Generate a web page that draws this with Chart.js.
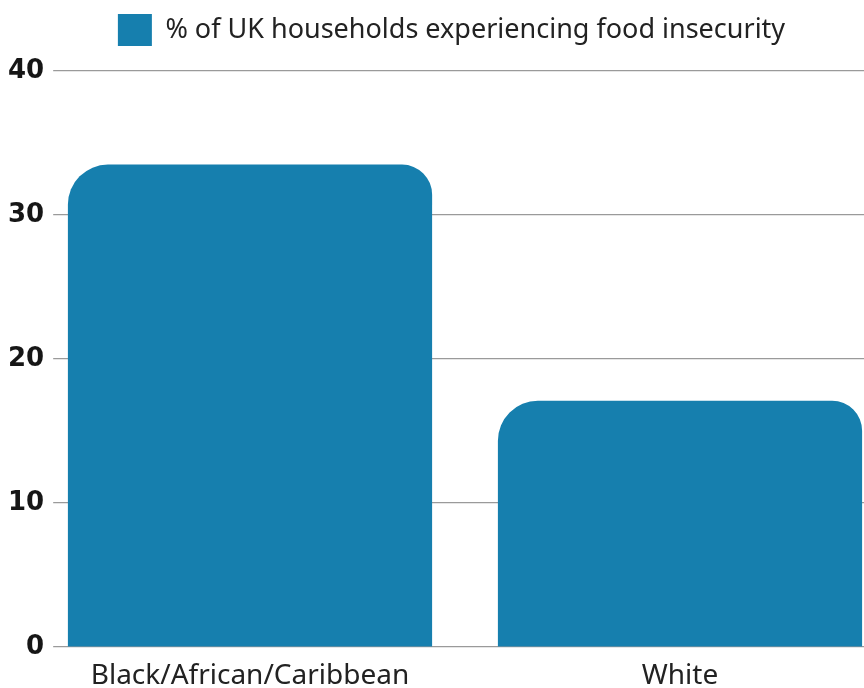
<!DOCTYPE html>
<html>
<head>
<meta charset="utf-8">
<script src="https://cdn.jsdelivr.net/npm/chart.js@4.4.0/dist/chart.umd.min.js"></script>
<style>
  html, body { margin: 0; padding: 0; background: #ffffff; overflow: hidden; }
  #wrap { width: 895px; height: 688px; }
</style>
</head>
<body>
<div id="wrap"><canvas id="chart"></canvas></div>
<script>
// Food insecurity by ethnicity
const categories = ['Black/African/Caribbean', 'White'];
const values = [33.5, 17.1];
const seriesLabel = '% of UK households experiencing food insecurity';
const yTicks = [0, 10, 20, 30, 40];

const barColor = '#167fae';

// extra space under the legend
const legendGap = {
    id: 'legendGap',
    beforeInit(chart) {
        const fitOrig = chart.legend.fit;
        chart.legend.fit = function () {
            fitOrig.bind(chart.legend)();
            this.height += 15;
        };
    }
};

const ctx = document.getElementById('chart');
new Chart(ctx, {
    type: 'bar',
    data: {
        labels: categories,
        datasets: [{
            label: seriesLabel,
            data: values,
            backgroundColor: barColor,
            borderWidth: 0,
            borderSkipped: 'bottom',
            borderRadius: { topLeft: 40, topRight: 30, bottomLeft: 0, bottomRight: 0 },
            categoryPercentage: 0.847,
            barPercentage: 1.0
        }]
    },
    plugins: [legendGap],
    options: {
        responsive: true,
        maintainAspectRatio: false,
        animation: false,
        layout: { padding: { left: 8, right: 0, top: 4, bottom: 0 } },
        plugins: {
            legend: {
                display: true,
                position: 'top',
                labels: {
                    boxWidth: 34,
                    boxHeight: 32,
                    padding: 10,
                    color: '#222222',
                    font: { family: '"Noto Sans", sans-serif', size: 27 }
                }
            },
            tooltip: { enabled: false }
        },
        scales: {
            x: {
                grid: { display: false },
                border: { display: false },
                afterFit: axis => {
                    axis.height = 41;
                },
                ticks: {
                    color: '#222222',
                    padding: 4,
                    maxRotation: 0,
                    font: { family: '"Noto Sans", sans-serif', size: 28 }
                }
            },
            y: {
                min: 0,
                max: 40,
                afterBuildTicks: axis => {
                    axis.ticks = yTicks.map(v => ({ value: v }));
                },
                afterFit: axis => {
                    axis.width = 27;
                },
                grid: {
                    color: '#9a9a9a',
                    lineWidth: 1.2,
                    drawTicks: false
                },
                border: { display: false },
                ticks: {
                    color: '#161616',
                    mirror: true,
                    crossAlign: 'far',
                    padding: -27,
                    showLabelBackdrop: true,
                    backdropColor: '#ffffff',
                    backdropPadding: { top: 2, bottom: 2, left: 0, right: 9 },
                    font: { family: '"DejaVu Sans", sans-serif', size: 26, weight: 'bold' }
                }
            }
        }
    }
});
</script>
</body>
</html>
